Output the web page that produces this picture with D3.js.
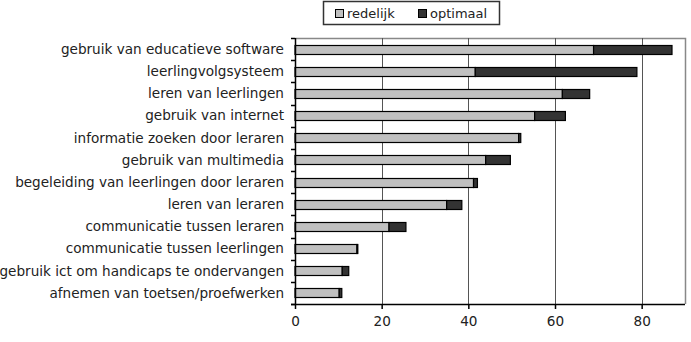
<!DOCTYPE html>
<html>
<head>
<meta charset="utf-8">
<script src="https://cdn.jsdelivr.net/npm/d3@7"></script>
<style>
  html, body { margin: 0; padding: 0; background: #ffffff; }
  svg { display: block; }
  text { font-family: "DejaVu Sans", Verdana, sans-serif; fill: #222; }
</style>
</head>
<body>
<svg id="chart" width="691" height="342"></svg>
<script>
// Toepassingen van ICT (percentages), van boven naar beneden
const categories = [
  "gebruik van educatieve software",
  "leerlingvolgsysteem",
  "leren van leerlingen",
  "gebruik van internet",
  "informatie zoeken door leraren",
  "gebruik van multimedia",
  "begeleiding van leerlingen door leraren",
  "leren van leraren",
  "communicatie tussen leraren",
  "communicatie tussen leerlingen",
  "gebruik ict om handicaps te ondervangen",
  "afnemen van toetsen/proefwerken"
];
const redelijk = [68.9, 41.6, 61.7, 55.3, 51.6, 44.0, 41.2, 35.0, 21.7, 14.3, 10.9, 10.2];
const optimaal = [18.1, 37.3, 6.3, 7.1, 0.5, 5.7, 0.9, 3.5, 3.9, 0.2, 1.5, 0.6];
const seriesNames = ["redelijk", "optimaal"];
const seriesColors = ["#c0c0c0", "#333333"];
const xTicks = [0, 20, 40, 60, 80];

const fontSize = 13.6;
const svg = d3.select("#chart");
const plotL = 295, plotR = 685, plotT = 38, plotB = 304;

const x = d3.scaleLinear().domain([0, 90]).range([plotL, plotR]);
const band = d3.scaleBand().domain(categories).range([plotT, plotB]);

// Plot frame (top and right) in grey
svg.append("path")
  .attr("d", `M${plotL},${plotT + 0.5}H${plotR + 0.5}V${plotB}`)
  .attr("fill", "none").attr("stroke", "#888").attr("stroke-width", 1.5);

// Vertical gridlines
svg.append("g").selectAll("line").data(xTicks.filter(d => d > 0)).join("line")
  .attr("x1", d => Math.round(x(d)) + 0.5).attr("x2", d => Math.round(x(d)) + 0.5)
  .attr("y1", plotT).attr("y2", plotB)
  .attr("stroke", "#555").attr("stroke-width", 1);

// Stacked bars
const stackData = categories.map((c, i) => ({ cat: c, redelijk: redelijk[i], optimaal: optimaal[i] }));
const stacked = d3.stack().keys(seriesNames)(stackData);
const barH = 9;
svg.append("g").selectAll("g").data(stacked).join("g")
  .attr("fill", (d, i) => seriesColors[i])
  .selectAll("rect").data(d => d).join("rect")
  .attr("x", d => x(d[0]))
  .attr("width", d => Math.max(0, x(d[1]) - x(d[0])))
  .attr("y", d => Math.round(band(d.data.cat) + band.bandwidth() / 2 - barH / 2) + 0.5)
  .attr("height", barH)
  .attr("stroke", "#000").attr("stroke-width", 1.2);

// Y axis with ticks between categories
const yAxis = svg.append("g");
yAxis.append("line").attr("x1", plotL + 0.5).attr("x2", plotL + 0.5).attr("y1", plotT).attr("y2", plotB)
  .attr("stroke", "#000").attr("stroke-width", 1.5);
const boundaries = d3.range(categories.length + 1).map(i => plotT + i * band.step());
yAxis.selectAll("line.tick").data(boundaries).join("line").attr("class", "tick")
  .attr("x1", plotL - 4).attr("x2", plotL)
  .attr("y1", d => Math.round(d) + 0.5).attr("y2", d => Math.round(d) + 0.5)
  .attr("stroke", "#000").attr("stroke-width", 1.5);
yAxis.selectAll("text").data(categories).join("text")
  .attr("x", plotL - 11)
  .attr("y", d => band(d) + band.bandwidth() / 2)
  .attr("dy", "0.35em")
  .attr("text-anchor", "end")
  .attr("font-size", fontSize)
  .text(d => d);

// X axis
const xAxis = d3.axisBottom(x).tickValues(xTicks).tickSize(5).tickPadding(7);
const gx = svg.append("g").attr("transform", `translate(0,${plotB})`).call(xAxis);
gx.select(".domain").attr("stroke", "#000").attr("stroke-width", 1.5)
  .attr("d", `M${plotL - 4},0.5H${plotR}`);
gx.selectAll(".tick line").attr("stroke", "#000").attr("stroke-width", 1.5);
gx.selectAll(".tick text").attr("font-size", fontSize).attr("font-family", "DejaVu Sans, Verdana, sans-serif").attr("fill", "#222");

// Legend
const lg = svg.append("g");
lg.append("rect").attr("x", 323.5).attr("y", 1.5).attr("width", 176).attr("height", 23)
  .attr("fill", "#fff").attr("stroke", "#333").attr("stroke-width", 1.5);
const legendX = [335, 418];
seriesNames.forEach((name, i) => {
  lg.append("rect").attr("x", legendX[i] + 0.5).attr("y", 9.5).attr("width", 8).attr("height", 8)
    .attr("fill", seriesColors[i]).attr("stroke", "#000").attr("stroke-width", 1);
  lg.append("text").attr("x", legendX[i] + 12).attr("y", 13.5).attr("dy", "0.35em")
    .attr("font-size", 13).text(name);
});
</script>
</body>
</html>
